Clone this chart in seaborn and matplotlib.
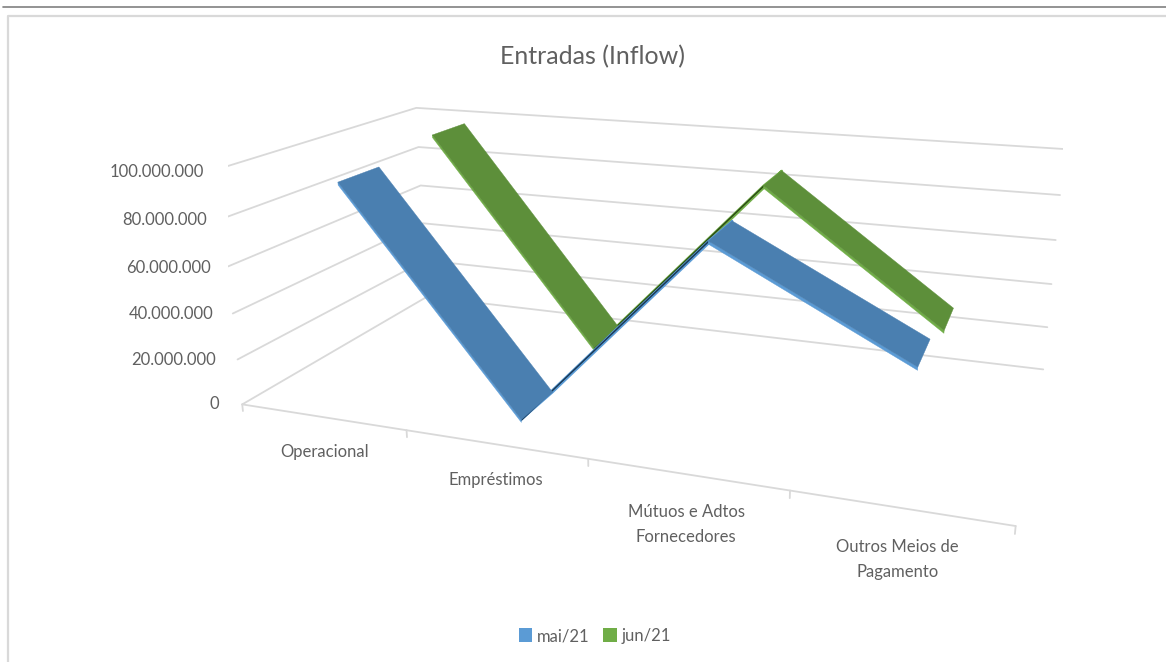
import matplotlib
matplotlib.use('Agg')
import matplotlib.pyplot as plt
import seaborn as sns
from matplotlib.lines import Line2D
from matplotlib.patches import Patch
from mpl_toolkits.mplot3d.art3d import Poly3DCollection

# data
categories = ['Operacional', 'Empréstimos', 'Mútuos e Adtos\nFornecedores', 'Outros Meios de\nPagamento']
mai_21 = [93000000, 1000000, 83000000, 44000000]
jun_21 = [98500000, 5000000, 87000000, 32000000]
series_names = ['mai/21', 'jun/21']
value_ticks = [0, 20000000, 40000000, 60000000, 80000000, 100000000]

sns.set_theme(style='white')
plt.rcParams['font.family'] = ['Lato', 'DejaVu Sans']

W, H = 1166, 662
palette = sns.color_palette(['#5b9bd5', '#70ad47'])
top_shade = ['#4a7fb0', '#5d8f3a']
under_shade = ['#14304a', '#24400f']
grid_color = '#d9d9d9'
text_color = '#606060'

fig = plt.figure(figsize=(W / 100, H / 100), dpi=100, facecolor='white')
ax = fig.add_subplot(projection='3d', computed_zorder=False)
ax.set_axis_off()
ax.patch.set_alpha(0)

# camera fitted to the walls of the original chart
ax.set_xlim(0, 4)
ax.set_ylim(0, 2)
ax.set_zlim(0, 100000000)
ax.set_xticks([])
ax.set_yticks([])
ax.set_zticks([])
for axis in (ax.xaxis, ax.yaxis, ax.zaxis):
    axis.set_visible(False)
ax.view_init(elev=17.068, azim=-70.351)
ax.set_proj_type('persp', focal_length=0.2792)
ax.set_box_aspect((4.0496, 1.9972, 1.2977))
scale, off_x, off_y = 4518.79, 656.79, 386.35
vl = ax.viewLim
ax.set_position([(off_x + scale * vl.x0) / W, (off_y + scale * vl.y0) / H,
                 scale * vl.width / W, scale * vl.height / H])

# walls and floor
for v in value_ticks:
    ax.plot([0, 0, 4], [0, 2, 2], [v, v, v], color=grid_color, lw=1.3, zorder=1)
ax.plot([0, 4], [0, 0], [0, 0], color=grid_color, lw=1.3, zorder=1)
for i in range(5):
    ax.plot([i, i], [0, 0], [0, -3000000], color=grid_color, lw=1.3, zorder=1)

# ribbons, back series first
half_width = 0.2
for s, values in reversed(list(enumerate([mai_21, jun_21]))):
    y0, y1 = s + 0.5 - half_width, s + 0.5 + half_width
    for i in range(len(values) - 1):
        xa, xb = i + 0.5, i + 1.5
        za, zb = values[i], values[i + 1]
        falling = zb < za
        thickness = 1200000 if falling else 500000
        top = [(xa, y0, za), (xb, y0, zb), (xb, y1, zb), (xa, y1, za)]
        side = [(xa, y0, za), (xb, y0, zb), (xb, y0, zb - thickness), (xa, y0, za - thickness)]
        top_color = top_shade[s] if falling else palette[s]
        side_color = palette[s] if falling else under_shade[s]
        edge = 0.3 if falling else 1.5
        z = 5 + 2 * (1 - s) + (0.5 if falling else 0) + i * 0.1
        side_z = z if falling else z + 0.02
        ax.add_collection3d(Poly3DCollection([side], facecolor=side_color, edgecolor=side_color, lw=0.3, zorder=side_z))
        ax.add_collection3d(Poly3DCollection([top], facecolor=top_color, edgecolor=top_color, lw=edge, zorder=z + 0.01))

# tick labels
for v in value_ticks:
    label = f'{v:,}'.replace(',', '.')
    ax.text(-0.085 - 0.065 * (1 - v / value_ticks[-1]), 0, v - 1500000, label, ha='right', va='center',
            fontsize=12, color=text_color)
for i, c in enumerate(categories):
    ax.text(i + 0.5, 0, -12000000, c, ha='center', va='top', fontsize=12, color=text_color, linespacing=1.7)

fig.text(592 / W, 1 - 57 / H, 'Entradas (Inflow)', ha='center', va='center', fontsize=18, color=text_color)

handles = [Patch(facecolor=c, edgecolor='none') for c in palette]
fig.legend(handles, series_names, loc='center', bbox_to_anchor=(595 / W, 1 - 636 / H), ncol=2, frameon=False,
           fontsize=12, labelcolor=text_color, handlelength=0.8, handleheight=0.9, handletextpad=0.3, columnspacing=0.8)

# frame of the pasted chart
fig.add_artist(Line2D([3 / W, 1], [1 - 7 / H, 1 - 7 / H], color='#808080', lw=1.2))
fig.add_artist(Line2D([8 / W, 8 / W, 1], [0, 1 - 16 / H, 1 - 16 / H], color=grid_color, lw=1.6))

fig.savefig('out.png', dpi=100)
